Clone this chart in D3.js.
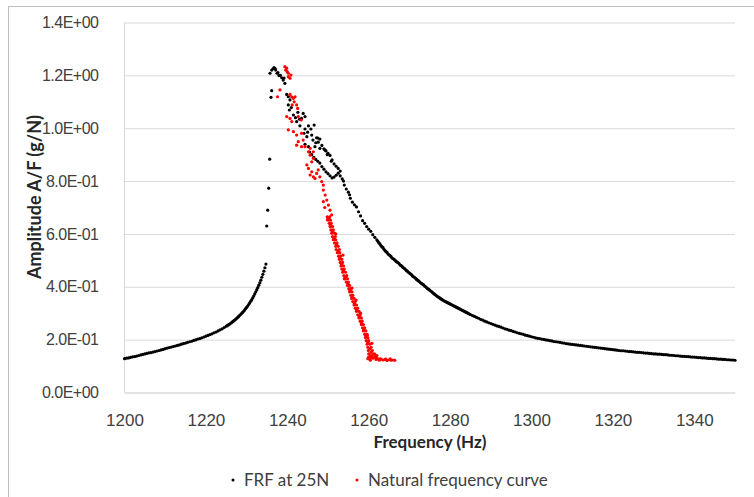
<!DOCTYPE html>
<html>
<head>
<meta charset="utf-8">
<script src="https://cdn.jsdelivr.net/npm/d3@7"></script>
<style>
  body { margin: 0; background: #fff; }
  svg { display: block; font-family: Lato, 'Open Sans', sans-serif; }
</style>
</head>
<body>
<svg width="754" height="497"></svg>
<script>
// FRF at 25N, left branch (1200 - 1224.5 Hz, 0.5 Hz sweep)
const frfLeftStart = 1200
const frfLeftAmp = [
  0.128, 0.130, 0.131, 0.133, 0.135, 0.136, 0.138, 0.140, 0.142, 0.144,
  0.146, 0.148, 0.150, 0.151, 0.153, 0.155, 0.157, 0.159, 0.161, 0.163,
  0.166, 0.168, 0.170, 0.172, 0.174, 0.176, 0.178, 0.180, 0.183, 0.185,
  0.187, 0.190, 0.192, 0.194, 0.197, 0.199, 0.202, 0.204, 0.207, 0.210,
  0.213, 0.216, 0.219, 0.222, 0.226, 0.229, 0.233, 0.237, 0.241, 0.246,
]

// FRF at 25N, steep rise (1225 - 1234.75 Hz, 0.25 Hz sweep)
const frfRiseStart = 1225
const frfRiseAmp = [
  0.251, 0.253, 0.256, 0.258, 0.261, 0.264, 0.267, 0.270, 0.273, 0.276,
  0.280, 0.283, 0.287, 0.291, 0.295, 0.299, 0.303, 0.307, 0.312, 0.317,
  0.322, 0.327, 0.333, 0.339, 0.345, 0.351, 0.358, 0.365, 0.373, 0.381,
  0.389, 0.397, 0.406, 0.415, 0.425, 0.436, 0.447, 0.459, 0.472, 0.486,
]

// FRF at 25N, steep fall (1262 - 1285 Hz, 0.25 Hz sweep)
const frfFallStart = 1262
const frfFallAmp = [
  0.578, 0.572, 0.566, 0.562, 0.556, 0.551, 0.549, 0.542, 0.537, 0.533,
  0.530, 0.524, 0.521, 0.518, 0.514, 0.509, 0.506, 0.504, 0.500, 0.496,
  0.493, 0.491, 0.487, 0.482, 0.480, 0.476, 0.472, 0.470, 0.466, 0.462,
  0.459, 0.455, 0.452, 0.449, 0.446, 0.441, 0.438, 0.436, 0.432, 0.428,
  0.425, 0.422, 0.419, 0.415, 0.412, 0.410, 0.407, 0.403, 0.400, 0.396,
  0.393, 0.390, 0.387, 0.384, 0.381, 0.377, 0.374, 0.371, 0.368, 0.365,
  0.362, 0.360, 0.357, 0.354, 0.352, 0.349, 0.347, 0.345, 0.343, 0.341,
  0.339, 0.337, 0.335, 0.333, 0.331, 0.329, 0.327, 0.325, 0.323, 0.321,
  0.319, 0.317, 0.315, 0.313, 0.311, 0.309, 0.307, 0.305, 0.303, 0.301,
  0.299, 0.297, 0.295,
]

// FRF at 25N, tail (1285.5 - 1350 Hz, 0.5 Hz sweep)
const frfTailStart = 1285.5
const frfTailAmp = [
  0.291, 0.288, 0.284,
  0.281, 0.277, 0.274, 0.270, 0.267, 0.264, 0.261, 0.258, 0.255, 0.252,
  0.250, 0.247, 0.244, 0.241, 0.239, 0.236, 0.234, 0.231, 0.229, 0.226,
  0.224, 0.222, 0.220, 0.217, 0.215, 0.213, 0.211, 0.209, 0.207, 0.205,
  0.204, 0.202, 0.201, 0.199, 0.198, 0.196, 0.195, 0.193, 0.192, 0.191,
  0.190, 0.188, 0.187, 0.185, 0.184, 0.183, 0.182, 0.181, 0.180, 0.179,
  0.178, 0.177, 0.176, 0.175, 0.174, 0.173, 0.172, 0.171, 0.170, 0.169,
  0.168, 0.167, 0.166, 0.165, 0.164, 0.163, 0.162, 0.161, 0.160, 0.159,
  0.158, 0.158, 0.157, 0.156, 0.155, 0.155, 0.154, 0.153, 0.152, 0.152,
  0.151, 0.150, 0.149, 0.149, 0.148, 0.147, 0.146, 0.146, 0.145, 0.145,
  0.144, 0.143, 0.143, 0.142, 0.141, 0.141, 0.140, 0.139, 0.139, 0.138,
  0.137, 0.137, 0.136, 0.136, 0.135, 0.134, 0.134, 0.133, 0.132, 0.132,
  0.131, 0.131, 0.130, 0.129, 0.129, 0.128, 0.128, 0.127, 0.126, 0.126,
  0.125, 0.125, 0.124, 0.124, 0.123, 0.123, 0.122,
]

// FRF at 25N, scattered points around the resonance jump
const frfPeakFreq = [
  1234.94, 1235.18, 1235.43, 1235.68, 1236.0, 1236.17,
  1235.75, 1236.17, 1236.5, 1236.73, 1237.0, 1237.15, 1237.47, 1237.7, 1237.96, 1238.3, 1238.62, 1239.0, 1239.2, 1239.4,
  1239.85, 1240.25, 1240.66, 1240.25, 1240.5, 1241.5, 1242.0, 1243.9, 1244.35, 1243.5, 1242.3, 1243.1, 1245.2, 1246.6,
  1245.8, 1244.35, 1244.1, 1244.8, 1246.0, 1247.2, 1248.0, 1244.35, 1245.2, 1246.8, 1248.0, 1249.3, 1247.6,
  1247.5, 1248.5, 1249.0, 1249.5, 1250.0, 1250.5, 1251.0, 1251.5, 1252.0, 1252.5, 1253.0, 1253.5, 1254.0,
  1254.5, 1255.0, 1255.5, 1256.0, 1256.5, 1257.0, 1257.5, 1258.0, 1258.5, 1259.0, 1259.5, 1260.0, 1260.5, 1261.0, 1261.5,
  1245.5, 1246.0, 1246.5, 1247.0, 1247.5, 1248.0, 1248.5, 1249.0, 1249.5, 1250.0, 1250.5, 1251.0, 1251.5, 1252.0, 1252.5, 1253.0,
  1241.0, 1242.6, 1243.0, 1245.0, 1246.3, 1247.0, 1249.8, 1250.8, 1253.8, 1255.3,
]
const frfPeakAmp = [
  0.630, 0.690, 0.773, 0.883, 1.117, 1.142,
  1.208, 1.220, 1.225, 1.229, 1.226, 1.220, 1.208, 1.210, 1.199, 1.200, 1.191, 1.182, 1.190, 1.170,
  1.128, 1.119, 1.107, 1.088, 1.069, 1.050, 1.040, 1.056, 1.044, 1.037, 1.025, 1.009, 1.009, 1.012,
  0.997, 0.997, 0.981, 0.968, 0.974, 0.964, 0.959, 0.939, 0.930, 0.930, 0.924, 0.917, 0.947,
  0.963, 0.935, 0.922, 0.914, 0.905, 0.897, 0.880, 0.865, 0.856, 0.848, 0.838, 0.808, 0.785,
  0.770, 0.758, 0.735, 0.720, 0.710, 0.702, 0.684, 0.668, 0.650, 0.640, 0.628, 0.618, 0.610, 0.597, 0.587,
  0.910, 0.900, 0.890, 0.882, 0.875, 0.868, 0.855, 0.845, 0.835, 0.828, 0.820, 0.812, 0.815, 0.822, 0.830, 0.820,
  1.078, 1.060, 1.034, 0.985, 0.955, 0.945, 0.900, 0.875, 0.800, 0.748,
]

// Natural frequency curve
const natFreq = [
  1239.4, 1239.85, 1240.0, 1240.25, 1240.25, 1240.66, 1240.9, 1239.6, 1238.2, 1237.6,
  1240.66, 1241.08, 1241.5, 1241.9, 1241.7, 1241.2, 1242.3, 1242.55, 1239.85, 1240.66,
  1241.1, 1242.7, 1243.4, 1240.25, 1241.5, 1242.3, 1243.5, 1242.7, 1243.9, 1242.3,
  1244.35, 1245.6, 1246.4, 1243.5, 1245.2, 1245.6, 1246.4, 1246.0, 1244.8, 1245.2,
  1246.0, 1245.6, 1246.4, 1246.8, 1247.2, 1247.6, 1248.0, 1248.45, 1248.85, 1248.85,
  1249.3, 1249.7, 1248.85, 1250.1, 1250.5, 1250.9,
  1249.8, 1250.4, 1250.0, 1250.6, 1250.3, 1250.8, 1250.5, 1251.1, 1250.7, 1251.3,
  1250.9, 1251.6, 1251.1, 1251.8, 1251.3, 1251.9, 1251.6, 1252.2, 1251.9, 1252.5,
  1252.0, 1252.8, 1252.3, 1252.9, 1252.6, 1253.1, 1252.8, 1253.4, 1253.0, 1253.6,
  1253.2, 1253.8, 1253.4, 1254.0, 1253.6, 1254.3, 1253.9, 1254.6, 1254.2, 1254.8,
  1254.5, 1255.0, 1254.8, 1255.3, 1255.1, 1255.6, 1255.3, 1255.9, 1255.6, 1256.1,
  1255.8, 1256.4, 1256.1, 1256.7, 1256.4, 1257.0, 1256.7, 1257.3, 1257.0, 1257.6,
  1257.3, 1257.9, 1257.6, 1258.2, 1257.9, 1258.4, 1258.2, 1258.7, 1258.5, 1259.0,
  1258.7, 1259.3, 1259.0, 1259.5, 1259.2, 1259.8, 1259.4, 1260.0, 1259.6, 1260.3,
  1259.8, 1260.6, 1259.9, 1260.9, 1260.0, 1261.2, 1260.0, 1261.5,
  1259.8, 1260.4, 1261.0, 1261.8, 1262.2, 1262.6, 1263.0, 1263.5, 1264.0, 1264.5,
  1265.0, 1265.5, 1266.0, 1266.4, 1262.0, 1261.5, 1260.5,
  1250.2, 1250.6, 1251.1, 1251.5, 1252.1, 1252.5, 1252.9, 1253.3, 1253.8, 1254.3,
  1254.9, 1255.4, 1255.9, 1256.5, 1257.0, 1257.7, 1258.2, 1258.8, 1259.3, 1259.8,
  1260.3, 1260.6, 1260.9, 1261.8, 1260.5, 1262.8, 1264.2, 1265.3,
  1249.2, 1249.9, 1251.9, 1253.7, 1254.0, 1255.9, 1256.9, 1258.0, 1259.7, 1260.8,
]
const natAmp = [
  1.233, 1.227, 1.214, 1.208, 1.195, 1.189, 1.201, 1.220, 1.145, 1.119,
  1.128, 1.119, 1.113, 1.119, 1.100, 1.088, 1.088, 1.075, 1.044, 1.037,
  1.025, 1.044, 1.031, 0.994, 0.987, 0.974, 0.981, 0.949, 0.955, 0.936,
  0.930, 0.924, 0.911, 0.930, 0.911, 0.898, 0.886, 0.873, 0.861, 0.848,
  0.835, 0.823, 0.816, 0.810, 0.829, 0.842, 0.816, 0.798, 0.785, 0.766,
  0.747, 0.728, 0.722, 0.709, 0.690, 0.672,
  0.665, 0.665, 0.652, 0.652, 0.640, 0.640, 0.628, 0.628, 0.615, 0.615,
  0.603, 0.603, 0.590, 0.590, 0.578, 0.578, 0.566, 0.566, 0.553, 0.553,
  0.541, 0.541, 0.529, 0.529, 0.516, 0.516, 0.504, 0.504, 0.492, 0.492,
  0.479, 0.479, 0.467, 0.467, 0.455, 0.455, 0.442, 0.442, 0.430, 0.430,
  0.418, 0.418, 0.405, 0.405, 0.393, 0.393, 0.381, 0.381, 0.368, 0.368,
  0.356, 0.356, 0.344, 0.344, 0.331, 0.331, 0.319, 0.319, 0.307, 0.307,
  0.294, 0.294, 0.282, 0.282, 0.270, 0.270, 0.257, 0.257, 0.245, 0.245,
  0.233, 0.233, 0.220, 0.220, 0.208, 0.208, 0.196, 0.196, 0.183, 0.183,
  0.171, 0.171, 0.159, 0.159, 0.146, 0.146, 0.134, 0.134,
  0.128, 0.122, 0.130, 0.125, 0.128, 0.122, 0.126, 0.123, 0.125, 0.121,
  0.124, 0.122, 0.123, 0.122, 0.140, 0.145, 0.140,
  0.659, 0.634, 0.609, 0.584, 0.560, 0.535, 0.510, 0.486, 0.461, 0.436,
  0.412, 0.387, 0.362, 0.338, 0.313, 0.288, 0.264, 0.239, 0.214, 0.190,
  0.165, 0.152, 0.140, 0.135, 0.131, 0.127, 0.126, 0.127,
  0.700, 0.655, 0.600, 0.520, 0.430, 0.395, 0.350, 0.300, 0.218, 0.186,
]

const xTicks = [1200, 1220, 1240, 1260, 1280, 1300, 1320, 1340]
const yTicks = [0, 0.2, 0.4, 0.6, 0.8, 1.0, 1.2, 1.4]
const yTickLabels = ['0.0E+00', '2.0E-01', '4.0E-01', '6.0E-01', '8.0E-01', '1.0E+00', '1.2E+00', '1.4E+00']

const seriesNames = ['FRF at 25N', 'Natural frequency curve']
const seriesColors = ['#000000', '#ff0000']

// build point tables
const frfPoints = []
const addSweep = (start, step, amps) =>
  amps.forEach((a, i) => frfPoints.push({ f: start + i * step, a: a }))
addSweep(frfLeftStart, 0.5, frfLeftAmp)
addSweep(frfRiseStart, 0.25, frfRiseAmp)
frfPeakAmp.forEach((a, i) => frfPoints.push({ f: frfPeakFreq[i], a: a }))
addSweep(frfFallStart, 0.25, frfFallAmp)
addSweep(frfTailStart, 0.5, frfTailAmp)
const natPoints = natAmp.map((a, i) => ({ f: natFreq[i], a: a }))

const margin = { top: 22.5, left: 124.5 }
const width = 735 - 124.5
const height = 392.5 - 22.5

const svg = d3.select('svg')

// chart border
svg.append('rect')
  .attr('x', 8.5).attr('y', 6.5)
  .attr('width', 800).attr('height', 600)
  .attr('fill', 'none').attr('stroke', '#bfbfbf')

const x = d3.scaleLinear().domain([1200, 1350]).range([0, width])
const y = d3.scaleLinear().domain([0, 1.4]).range([height, 0])

const g = svg.append('g')
  .attr('transform', `translate(${margin.left},${margin.top})`)

// y axis with grid
const yAxis = d3.axisLeft(y)
  .tickValues(yTicks)
  .tickSize(-width)
  .tickPadding(26)
  .tickFormat((d, i) => yTickLabels[i])
const yg = g.append('g').call(yAxis)
yg.select('.domain').remove()
yg.selectAll('.tick line').attr('stroke', '#d9d9d9')
yg.selectAll('.tick text')
  .attr('fill', '#404040')
  .style('font-size', '16px')
  .style('letter-spacing', '-0.5px')

g.append('line')
  .attr('x1', 0).attr('x2', 0)
  .attr('y1', 0).attr('y2', height)
  .attr('stroke', '#d9d9d9')

// x axis
const xAxis = d3.axisBottom(x)
  .tickValues(xTicks)
  .tickSize(0)
  .tickPadding(21)
  .tickFormat((d) => d)
const xg = g.append('g')
  .attr('transform', `translate(0,${height})`)
  .call(xAxis)
xg.select('.domain').attr('stroke', '#d9d9d9')
xg.selectAll('.tick text')
  .attr('fill', '#404040')
  .style('font-size', '17px')

// points
g.append('g')
  .selectAll('circle')
  .data(frfPoints)
  .enter()
  .append('circle')
  .attr('cx', (d) => x(d.f))
  .attr('cy', (d) => y(d.a))
  .attr('r', 1.6)
  .attr('fill', seriesColors[0])

g.append('g')
  .selectAll('circle')
  .data(natPoints)
  .enter()
  .append('circle')
  .attr('cx', (d) => x(d.f))
  .attr('cy', (d) => y(d.a))
  .attr('r', 1.6)
  .attr('fill', seriesColors[1])

// axis titles
svg.append('text')
  .attr('x', 430).attr('y', 448)
  .attr('text-anchor', 'middle')
  .attr('fill', '#262626')
  .style('font-size', '17px')
  .style('font-weight', 'bold')
  .text('Frequency (Hz)')

svg.append('text')
  .attr('transform', 'translate(41,197) rotate(-90)')
  .attr('text-anchor', 'middle')
  .attr('fill', '#262626')
  .style('font-size', '18px')
  .style('font-weight', 'bold')
  .text('Amplitude A/F (g/N)')

// legend
const legendX = [233, 357]
const legend = svg.append('g')
seriesNames.forEach((name, i) => {
  legend.append('circle')
    .attr('cx', legendX[i]).attr('cy', 480)
    .attr('r', 1.5)
    .attr('fill', seriesColors[i])
  legend.append('text')
    .attr('x', legendX[i] + 11).attr('y', 486)
    .attr('fill', '#404040')
    .style('font-size', '17px')
    .text(name)
})
</script>
</body>
</html>
